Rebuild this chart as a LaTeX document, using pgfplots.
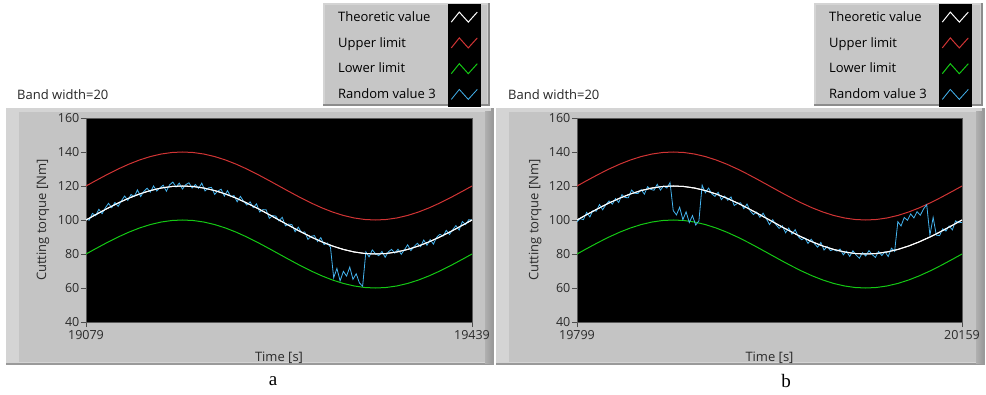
\documentclass[border=0pt]{standalone}
\usepackage{pgfplots}
\pgfplotsset{compat=1.18}
\usepackage{pgfplotstable}
\usepackage{fontspec}
\setmainfont{Open Sans}
\newfontfamily\capfont{Liberation Serif}
\definecolor{panelgray}{HTML}{C4C4C4}
\definecolor{panellight}{HTML}{D4D4D4}
\definecolor{paneldark}{HTML}{9A9A9A}
\definecolor{leggray}{HTML}{C6C6C6}
\definecolor{limred}{HTML}{D03434}
\definecolor{limgreen}{HTML}{14C814}
\definecolor{randblue}{HTML}{44B4F0}
\definecolor{tickcol}{HTML}{2A2A2A}

\pgfplotstableread{
t theo up low
0 100 120 80
10 103.47 123.47 83.47
20 106.84 126.84 86.84
30 110 130 90
40 112.86 132.86 92.86
50 115.32 135.32 95.32
60 117.32 137.32 97.32
70 118.79 138.79 98.79
80 119.70 139.70 99.70
90 120 140 100
100 119.70 139.70 99.70
110 118.79 138.79 98.79
120 117.32 137.32 97.32
130 115.32 135.32 95.32
140 112.86 132.86 92.86
150 110 130 90
160 106.84 126.84 86.84
170 103.47 123.47 83.47
180 100 120 80
190 96.53 116.53 76.53
200 93.16 113.16 73.16
210 90 110 70
220 87.14 107.14 67.14
230 84.68 104.68 64.68
240 82.68 102.68 62.68
250 81.21 101.21 61.21
260 80.30 100.30 60.30
270 80 100 60
280 80.30 100.30 60.30
290 81.21 101.21 61.21
300 82.68 102.68 62.68
310 84.68 104.68 64.68
320 87.14 107.14 67.14
330 90 110 70
340 93.16 113.16 73.16
350 96.53 116.53 76.53
360 100 120 80
}\sinetab

\pgfplotstableread{
t v
0 100.5
3 99.9
6 103.9
9 102.5
12 106.3
15 103.7
18 107.1
21 109.8
24 107.3
27 110.3
30 108.0
33 111.3
36 114.1
39 111.5
42 115.0
45 113.8
48 117.7
51 113.8
54 116.9
57 118.7
60 116.4
63 120.0
66 117.0
69 118.9
72 120.5
75 116.9
78 120.7
81 122.3
84 119.4
87 121.7
90 118.2
93 120.8
96 121.9
99 118.8
102 120.9
105 118.6
108 121.7
111 117.1
114 118.9
117 119.2
120 115.1
123 117.1
126 118.1
129 114.1
132 117.3
135 113.7
138 114.4
141 110.7
144 113.9
147 111.0
150 108.8
153 110.7
156 107.3
159 109.5
162 104.7
165 106.1
168 106.0
171 101.0
174 102.6
177 102.3
180 99.4
183 101.6
186 96.6
189 97.6
192 97.3
195 93.1
198 95.8
201 92.6
204 93.0
207 88.6
210 90.4
213 90.8
216 87.3
219 89.6
222 85.5
225 86.5
228 84.0
231 66.0
234 71.5
237 64.2
240 69.8
243 67.0
246 72.3
249 65.1
252 68.4
255 63.0
258 61.0
261 81.3
264 78.3
267 82.4
270 80.2
273 79.0
276 81.5
279 78.1
282 81.3
285 82.7
288 80.5
291 82.8
294 79.8
297 82.5
300 85.4
303 82.0
306 84.4
309 86.3
312 84.3
315 88.2
318 85.1
321 88.5
324 85.8
327 89.8
330 91.6
333 90.5
336 93.9
339 91.5
342 94.3
345 96.7
348 94.1
351 99.1
354 97.3
357 100.2
360 100.0
}\randa

\pgfplotstableread{
t v
0 99.0
3 100.8
6 100.2
9 104.5
12 101.8
15 105.6
18 105.2
21 109.1
24 106.0
27 109.0
30 111.2
33 109.3
36 112.6
39 110.3
42 114.9
45 113.2
48 113.1
51 117.6
54 115.7
57 115.6
60 117.9
63 115.2
66 119.6
69 118.0
72 117.5
75 121.0
78 117.6
81 120.0
84 118.8
87 122.0
90 105.5
93 103.0
96 107.5
99 100.2
102 104.8
105 98.5
108 102.6
111 97.0
114 99.5
117 120.5
120 116.0
123 118.8
126 115.4
129 113.9
132 116.3
135 112.0
138 114.1
141 111.6
144 113.6
147 108.5
150 109.8
153 110.1
156 106.7
159 109.4
162 105.3
165 103.2
168 104.7
171 101.6
174 104.0
177 100.8
180 97.3
183 100.2
186 97.3
189 95.1
192 96.6
195 92.5
198 95.3
201 91.7
204 94.3
207 90.2
210 88.4
213 89.5
216 86.2
219 88.7
222 86.1
225 84.0
228 86.8
231 82.3
234 84.4
237 82.0
240 82.7
243 81.7
246 82.9
249 79.5
252 81.6
255 78.6
258 81.9
261 79.4
264 77.5
267 80.8
270 78.8
273 82.0
276 79.7
279 78.0
282 81.5
285 79.1
288 81.3
291 78.5
294 83.4
297 81.5
300 99.0
303 96.5
306 101.5
309 99.8
312 103.6
315 101.2
318 104.9
321 102.8
324 106.5
327 109.0
330 91.0
333 101.5
336 91.1
339 90.8
342 94.8
345 93.5
348 96.5
351 94.2
354 99.5
357 98.4
360 98.6
}\randb

\pgfplotsset{
  lvaxis/.style={
    anchor=south west, height=204pt, scale only axis,
    xmin=0, xmax=360, ymin=40, ymax=160,
    axis background/.style={fill=black},
    axis line style={draw=black!65, line width=0.8pt},
    ytick={40,60,...,160}, xtick={0,360},
    tick pos=left, tick align=outside,
    major tick length=5pt,
    tick style={draw=black!70, line width=0.9pt},
    /pgf/number format/assume math mode=true,
    ticklabel style={font=\fontsize{12.5}{14}\selectfont, text=tickcol},
    yticklabel style={inner sep=1.5pt},
    xlabel={Time [s]}, ylabel={Cutting torque [Nm]},
    every axis x label/.style={at={(axis description cs:0.5,-0.1765)}, anchor=center,
      font=\fontsize{13}{15}\selectfont, text=tickcol},
    every axis y label/.style={at={(axis description cs:-0.1114,0.5)}, rotate=90, anchor=center,
      font=\fontsize{13}{15}\selectfont, text=tickcol},
    legend plot pos=right, legend cell align=left,
    legend image code/.code={
      \fill[black] (0pt,-12.4pt) rectangle (32pt,12.4pt);
      \draw[#1] (3pt,-5pt) -- (11pt,5pt) -- (20pt,-5pt) -- (29pt,5pt);
    },
    legend style={draw=none, fill=none, inner sep=0pt, row sep=0pt, column sep=12pt,
      font=\fontsize{13}{15}\selectfont, anchor=north east,
      nodes={inner sep=0pt}},
  }
}

\begin{document}
\begin{tikzpicture}[x=1pt,y=1pt]
\useasboundingbox (0,0) rectangle (986,394);
\fill[white] (0,0) rectangle (986,394);
% panel frames
\foreach \xa/\xb in {6/494, 496/985}{
  \fill[paneldark] (\xa,29) rectangle (\xb,286);
  \fill[panellight] (\xa,31) rectangle (\xb-3,286);
  \fill[panelgray] (\xa+13,32) rectangle (\xb-9,282);
  \shade[left color=panelgray!90!black, right color=paneldark] (\xb-9,31) rectangle (\xb-2,282);
}
% legend boxes
\foreach \xa/\xb in {323/490, 814/983}{
  \fill[black!45] (\xa,288) rectangle (\xb,391);
  \fill[panellight] (\xa,290) rectangle (\xb-2,391);
  \fill[leggray] (\xa+2,290) rectangle (\xb-3,389);
}
\node[anchor=west, inner sep=0pt, font=\fontsize{13}{15}\selectfont, text=black!85] at (17,299) {Band width=20};
\node[anchor=west, inner sep=0pt, font=\fontsize{13}{15}\selectfont, text=black!85] at (508,299) {Band width=20};
\node[font=\capfont\fontsize{19}{21}\selectfont] at (273,13) {a};
\node[font=\capfont\fontsize{19}{21}\selectfont] at (786,13) {b};

\begin{axis}[lvaxis, at={(86pt,72pt)}, width=386pt,
  xticklabels={19079,19439},
  legend style={at={(axis description cs:1.0233,1.5588)}}]
\addplot[white, line width=1pt] table[x=t,y=theo]{\sinetab};
\addlegendentry{Theoretic value}
\addplot[limred, line width=1pt] table[x=t,y=up]{\sinetab};
\addlegendentry{Upper limit}
\addplot[limgreen, line width=1pt] table[x=t,y=low]{\sinetab};
\addlegendentry{Lower limit}
\addplot[randblue, line width=0.8pt] table[x=t,y=v]{\randa};
\addlegendentry{Random value 3}
\addplot[white, line width=1pt, forget plot] table[x=t,y=theo]{\sinetab};
\end{axis}

\begin{axis}[lvaxis, at={(577pt,72pt)}, width=385pt,
  xticklabels={19799,20159},
  every axis y label/.style={at={(axis description cs:-0.109,0.5)}, rotate=90, anchor=center,
      font=\fontsize{13}{15}\selectfont, text=tickcol},
  legend style={at={(axis description cs:1.0260,1.5588)}}]
\addplot[white, line width=1pt] table[x=t,y=theo]{\sinetab};
\addlegendentry{Theoretic value}
\addplot[limred, line width=1pt] table[x=t,y=up]{\sinetab};
\addlegendentry{Upper limit}
\addplot[limgreen, line width=1pt] table[x=t,y=low]{\sinetab};
\addlegendentry{Lower limit}
\addplot[randblue, line width=0.8pt] table[x=t,y=v]{\randb};
\addlegendentry{Random value 3}
\addplot[white, line width=1pt, forget plot] table[x=t,y=theo]{\sinetab};
\end{axis}
\end{tikzpicture}
\end{document}
